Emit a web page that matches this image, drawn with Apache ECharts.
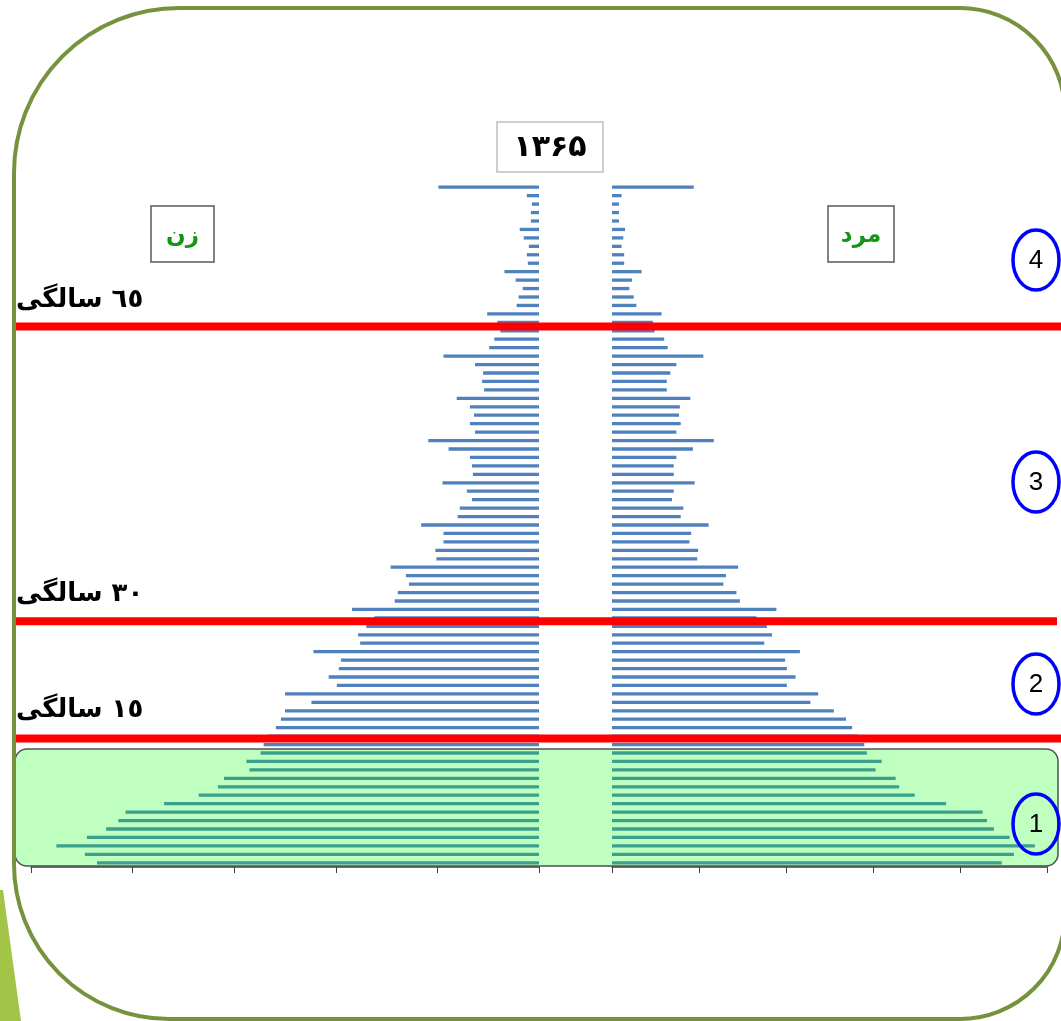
<!DOCTYPE html>
<html>
<head>
<meta charset="utf-8">
<script src="https://cdn.jsdelivr.net/npm/echarts@6/dist/echarts.min.js"></script>
<style>
html,body{margin:0;padding:0;background:#fff;}
#chart{width:1061px;height:1021px;}
</style>
</head>
<body>
<div id="chart"></div>
<script>
// Age categories (single years, bottom = 0, top = 80+)
const ages = ['0','1','2','3','4','5','6','7','8','9',
  '10','11','12','13','14','15','16','17','18','19',
  '20','21','22','23','24','25','26','27','28','29',
  '30','31','32','33','34','35','36','37','38','39',
  '40','41','42','43','44','45','46','47','48','49',
  '50','51','52','53','54','55','56','57','58','59',
  '60','61','62','63','64','65','66','67','68','69',
  '70','71','72','73','74','75','76','77','78','79','80+'];

// Female (زن) – left side, axis units (5 ticks of 100)
const female = [435,447,475,445,426,414,407,369,335,316,
  310,285,288,274,271,266,259,254,250,224,
  250,199,207,197,195,222,176,178,170,162,
  184,142,139,128,131,146,101,102,94,94,
  116,80,78,66,71,95,65,66,68,89,
  109,63,68,64,68,81,54,56,55,63,
  94,49,44,38,41,51,22,20,16,23,
  34,11,12,10,15,19,8,8,7,12,99];

// Male (مرد) – right side, axis units (5 ticks of 100)
const male = [448,462,486,457,439,431,426,384,348,330,
  326,303,310,293,290,282,276,269,255,228,
  237,201,211,201,199,216,175,184,178,166,
  189,147,143,128,131,145,98,99,89,91,
  111,79,82,69,71,95,71,71,74,93,
  117,74,79,77,78,90,63,63,67,74,
  105,64,60,49,47,57,28,25,20,23,
  34,14,14,11,13,15,8,8,8,11,94];

const axisMax = 500;
const axisStep = 100;

const yearTitle = '۱۳۶۵';
const femaleLabel = 'زن';
const maleLabel = 'مرد';
const ageMarks = ['٦٥ سالگی', '٣٠ سالگی', '١٥ سالگی'];
const groupNums = ['4', '3', '2', '1'];

const chart = echarts.init(document.getElementById('chart'), null, {renderer: 'canvas'});

const persianFont = '"DejaVu Sans", "Noto Sans", sans-serif';
const axisColor = '#404040';

function xAx(idx, inv) {
  return {
    gridIndex: idx, type: 'value', inverse: inv,
    min: 0, max: axisMax, interval: axisStep,
    axisLine: {show: true, onZero: false, lineStyle: {color: axisColor, width: 1.5}},
    axisTick: {show: true, length: 6, lineStyle: {color: axisColor, width: 1}},
    axisLabel: {show: false},
    splitLine: {show: false}
  };
}
function yAx(idx) {
  return {gridIndex: idx, type: 'category', data: ages, show: false};
}

const elements = [];
// outer frame
elements.push({type: 'rect', z: 200,
  shape: {x: 14, y: 8, width: 1051, height: 1011, r: [165, 105, 105, 155]},
  style: {fill: null, stroke: '#76923c', lineWidth: 4}});
elements.push({type: 'polygon', z: 200,
  shape: {points: [[0, 890], [3, 890], [21, 1021], [0, 1021]]},
  style: {fill: '#a2c548'}});
// red age lines
[[326.5, 1061], [621.3, 1057], [738.5, 1061]].forEach(function (l) {
  elements.push({type: 'rect', z: 150,
    shape: {x: 15, y: l[0] - 4, width: l[1] - 15, height: 8},
    style: {fill: '#ff0000'}});
});
// green box (group 1: ages 0-14)
elements.push({type: 'rect', z: 140,
  shape: {x: 15, y: 749, width: 1043, height: 117, r: 12},
  style: {fill: 'rgba(0,255,0,0.25)', stroke: '#505050', lineWidth: 1.5}});
// title box
elements.push({type: 'rect', z: 160,
  shape: {x: 497, y: 122, width: 106, height: 50},
  style: {fill: '#fff', stroke: '#bfbfbf', lineWidth: 1.5}});
elements.push({type: 'text', z: 161, x: 550, y: 148,
  style: {text: yearTitle, font: 'bold 30px ' + persianFont, fill: '#000', align: 'center', verticalAlign: 'middle'}});
// female / male boxes
[[151, 214, femaleLabel], [828, 894, maleLabel]].forEach(function (b) {
  elements.push({type: 'rect', z: 160,
    shape: {x: b[0], y: 206, width: b[1] - b[0], height: 56},
    style: {fill: '#fff', stroke: '#595959', lineWidth: 1.5}});
  elements.push({type: 'text', z: 161, x: (b[0] + b[1]) / 2, y: 236,
    style: {text: b[2], font: 'bold 23px ' + persianFont, fill: '#149614', align: 'center', verticalAlign: 'middle'}});
});
// age mark labels
[[300, ageMarks[0]], [594, ageMarks[1]], [710, ageMarks[2]]].forEach(function (t) {
  elements.push({type: 'text', z: 170, x: 16, y: t[0],
    style: {text: t[1], font: 'bold 26px ' + persianFont, fill: '#000', align: 'left', verticalAlign: 'middle'}});
});
// group circles
[260, 482, 684, 824].forEach(function (cy, i) {
  elements.push({type: 'ellipse', z: 170,
    shape: {cx: 1036, cy: cy, rx: 23, ry: 30},
    style: {fill: null, stroke: '#0000ff', lineWidth: 3.5}});
  elements.push({type: 'text', z: 171, x: 1036, y: cy + 1,
    style: {text: groupNums[i], font: '26px "Liberation Sans Narrow", "Liberation Sans", sans-serif', fill: '#000', align: 'center', verticalAlign: 'middle'}});
});

chart.setOption({
  animation: false,
  backgroundColor: '#ffffff',
  grid: [
    {left: 31, width: 508, top: 183, height: 684},
    {left: 612, width: 435, top: 183, height: 684}
  ],
  xAxis: [xAx(0, true), xAx(1, false)],
  yAxis: [yAx(0), yAx(1)],
  series: [
    {name: femaleLabel, type: 'bar', xAxisIndex: 0, yAxisIndex: 0, data: female,
      barWidth: 3.3, itemStyle: {color: '#4f81bd'}},
    {name: maleLabel, type: 'bar', xAxisIndex: 1, yAxisIndex: 1, data: male,
      barWidth: 3.3, itemStyle: {color: '#4f81bd'}}
  ],
  graphic: {elements: elements}
});
</script>
</body>
</html>
